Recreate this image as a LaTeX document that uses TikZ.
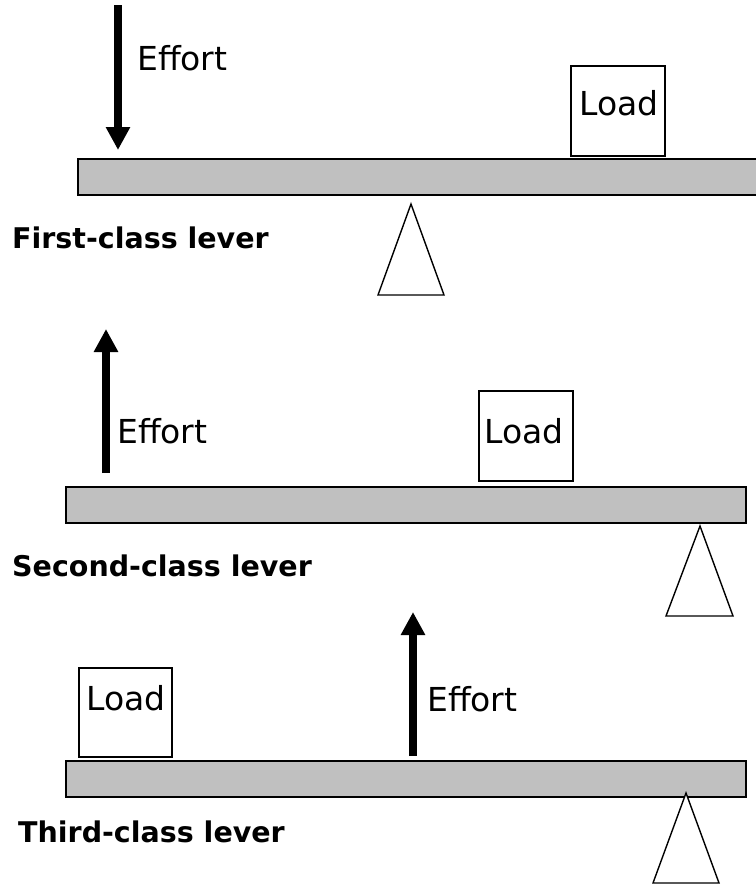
\documentclass[tikz,border=0pt]{standalone}
\usepackage{fontspec}
\setmainfont{DejaVu Sans}
\usetikzlibrary{arrows.meta}
\begin{document}
\begin{tikzpicture}[x=1pt,y=-1pt,
  bar/.style={draw=black,line width=1.6pt,fill={rgb,255:red,192;green,192;blue,192}},
  fulcrum/.style={draw=black,line width=1.4pt,fill=white},
  loadbox/.style={draw=black,line width=1.4pt,fill=white},
  force/.style={line width=7.5pt,-{Triangle[width=23pt,length=23pt]}},
  txt/.style={inner sep=0pt,anchor=base west,font=\fontsize{33}{40}\selectfont},
  title/.style={inner sep=0pt,anchor=base west,font=\fontsize{28.5}{34}\selectfont\bfseries}]
\useasboundingbox (0,0) rectangle (755,886);
% ---------- First-class lever ----------
\draw[bar] (78,159) rectangle (762,195);
\draw[fulcrum] (411,204) -- (444,295) -- (378,295) -- cycle;
\draw[loadbox] (571,66) rectangle (665,156);
\node[txt] (load1) at (579,115) {Load};
\coordinate (e1s) at (118,5);
\coordinate (e1e) at (118,150);
\draw[force] (e1s) -- (e1e);
\node[txt] (eff1) at (137,70) {Effort};
\node[title] (t1) at (12,248) {First-class lever};
% ---------- Second-class lever ----------
\draw[bar] (66,487) rectangle (746,523);
\draw[fulcrum] (700,526) -- (733,616) -- (666,616) -- cycle;
\draw[loadbox] (479,391) rectangle (573,481);
\node[txt] (load2) at (484,443) {Load};
\coordinate (e2s) at (106,473);
\coordinate (e2e) at (106,329);
\draw[force] (e2s) -- (e2e);
\node[txt] (eff2) at (117,443) {Effort};
\node[title] (t2) at (12,576) {Second-class lever};
% ---------- Third-class lever ----------
\draw[bar] (66,761) rectangle (746,797);
\draw[fulcrum] (686,793) -- (719,883) -- (653,883) -- cycle;
\draw[loadbox] (79,668) rectangle (172,757);
\node[txt] (load3) at (86,710) {Load};
\coordinate (e3s) at (413,756);
\coordinate (e3e) at (413,612);
\draw[force] (e3s) -- (e3e);
\node[txt] (eff3) at (427,711) {Effort};
\node[title] (t3) at (18,842) {Third-class lever};
\end{tikzpicture}
\end{document}
